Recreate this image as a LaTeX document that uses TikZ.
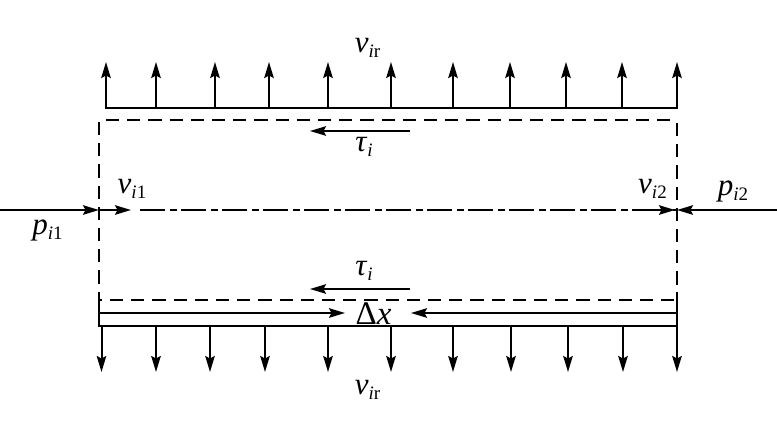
\documentclass[tikz,border=0pt]{standalone}
\usetikzlibrary{arrows.meta}
\usepackage{fontspec}
\setmainfont{Liberation Serif}
\newcommand{\symsub}[2]{\textit{#1}\raisebox{-5pt}{\fontsize{19}{19}\selectfont #2}}
\tikzset{
  x=1pt,y=-1pt,
  lineb/.style={line width=2pt},
  arr/.style={lineb,-{Stealth[length=16pt,width=9.5pt,inset=2.5pt]}},
  dashb/.style={lineb,dash pattern=on 13.2pt off 8pt},
  dashdotb/.style={lineb,dash pattern=on 25pt off 5pt on 7pt off 4pt},
  lab/.style={inner sep=0pt,font=\fontsize{31}{34}\selectfont}
}
\begin{document}
\begin{tikzpicture}
\useasboundingbox (0,0) rectangle (777,440);
% corners
\coordinate (tl) at (105,107.5); \coordinate (tr) at (678,107.5);
\coordinate (dtl) at (106,120); \coordinate (dtr) at (677,120);
\coordinate (dll) at (99,122); \coordinate (dlr) at (677,123);
\coordinate (dbl) at (99,300); \coordinate (dbr) at (677,300);
\coordinate (sl) at (99,292); \coordinate (sr) at (677,292);
\coordinate (bl) at (98,326); \coordinate (br) at (677,326);
\coordinate (ml) at (99,313); \coordinate (mr) at (677,313);
\coordinate (cl) at (99,210); \coordinate (cr) at (677,210);
\coordinate (farl) at (0,210); \coordinate (farr) at (777,210);
\coordinate (vend) at (131,210); \coordinate (dds) at (140,210);
\coordinate (dxl) at (345,313); \coordinate (dxr) at (411,313);
\coordinate (t1s) at (410,131); \coordinate (t1e) at (310,131);
\coordinate (t2s) at (410,289); \coordinate (t2e) at (310,289);
% plates
\draw[lineb] (tl) -- (tr);
\draw[lineb] (bl) -- (br);
\draw[dashb] (dtl) -- (dtr);
\draw[dashb] (dll) -- (sl);
\draw[dashb] (dlr) -- (sr);
\draw[dashb,dash phase=10.3pt] (dbl) -- (dbr);
\draw[lineb] (sl) -- (99,326);
\draw[lineb] (sr) -- (br);
% normal arrows
\foreach \x in {106,156,215,269,328,391,453,510,566,622,677}
  \draw[arr] (\x,107.5) -- (\x,62);
\foreach \x in {101.5,156,210,265,328,391,453,511,568,623,677}
  \draw[arr] (\x,326) -- (\x,372);
% axis
\draw[dashdotb] (dds) -- (cr);
\draw[arr] (farl) -- (cl);
\draw[arr] (cl) -- (vend);
\draw[arr] (farr) -- (cr);
\draw[arr] (650,210) -- (675,210);
% dx and tau
\draw[arr] (ml) -- (dxl);
\draw[arr] (mr) -- (dxr);
\draw[arr] (t1s) -- (t1e);
\draw[arr] (t2s) -- (t2e);
% labels
\node[lab] (vt) at (367.5,48) {\symsub{v}{\textit{i}r}};
\node[lab] (vb) at (367.5,390) {\symsub{v}{\textit{i}r}};
\node[lab] (t1) at (364,147) {\symsub{τ}{\textit{i}}};
\node[lab] (t2) at (364,271) {\symsub{τ}{\textit{i}}};
\node[lab,font=\fontsize{33}{36}\selectfont] (dx) at (373.5,314) {Δ\textit{x}};
\node[lab] (v1) at (132,189) {\symsub{v}{\textit{i}1}};
\node[lab] (v2) at (652.5,189) {\symsub{v}{\textit{i}2}};
\node[lab] (p1) at (47.5,230) {\symsub{p}{\textit{i}1}};
\node[lab] (p2) at (733,191) {\symsub{p}{\textit{i}2}};
\end{tikzpicture}
\end{document}
